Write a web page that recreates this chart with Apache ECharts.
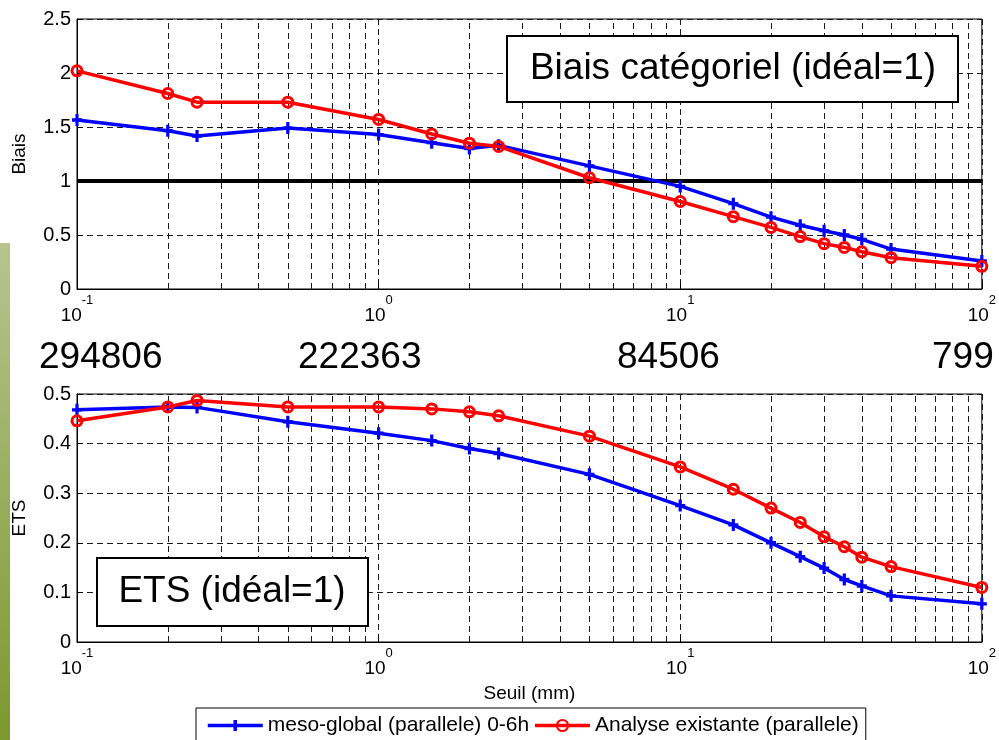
<!DOCTYPE html>
<html>
<head>
<meta charset="utf-8">
<title>Biais / ETS</title>
<script src="https://cdn.jsdelivr.net/npm/echarts@6/dist/echarts.min.js"></script>
<style>
    html, body { margin: 0; padding: 0; background: #fff; }
    #chart { width: 999px; height: 740px; }
</style>
</head>
<body>
<div id="chart"></div>
<script>
// seuils de précipitation (mm)
var seuils = [0.1, 0.2, 0.25, 0.5, 1, 1.5, 2, 2.5, 5, 10, 15, 20, 25, 30, 35, 40, 50, 100];

// biais catégoriel
var biaisMeso    = [1.565, 1.466, 1.417, 1.49, 1.43, 1.355, 1.30, 1.33, 1.14, 0.95, 0.79, 0.665, 0.59, 0.54, 0.50, 0.46, 0.37, 0.26];
var biaisAnalyse = [2.02, 1.81, 1.73, 1.73, 1.57, 1.435, 1.35, 1.32, 1.03, 0.81, 0.67, 0.57, 0.485, 0.42, 0.385, 0.345, 0.29, 0.21];

// ETS
var etsMeso    = [0.468, 0.474, 0.473, 0.444, 0.421, 0.406, 0.390, 0.380, 0.338, 0.275, 0.236, 0.200, 0.172, 0.149, 0.126, 0.113, 0.093, 0.077];
var etsAnalyse = [0.446, 0.474, 0.487, 0.474, 0.474, 0.470, 0.464, 0.456, 0.415, 0.353, 0.308, 0.270, 0.241, 0.212, 0.192, 0.171, 0.152, 0.110];

var xTicks = [0.1, 1, 10, 100];
var xTickExp = ['-1', '0', '1', '2'];
var effectifs = ['294806', '222363', '84506', '799'];
var nomsSeries = ['meso-global (parallele) 0-6h', 'Analyse existante (parallele)'];

var FONT = '"Liberation Sans", Arial, Helvetica, sans-serif';
var gridDash = { color: '#1a1a1a', width: 1, type: [6, 4] };
var plusPath = 'path://M3.4,0H6.6V3.6H10V6.4H6.6V10H3.4V6.4H0V3.6H3.4Z';

// grille mineure log (2..9 par décade)
var minorGrid = [];
[0.1, 1, 10].forEach(function (d) {
    for (var k = 2; k <= 9; k++) minorGrid.push(+(d * k).toFixed(3));
});

function xLabel(v) {
    for (var i = 0; i < xTicks.length; i++) {
        if (Math.abs(Math.log10(xTicks[i]) - Math.log10(v)) < 1e-6) {
            return '{n|10}{s|' + xTickExp[i] + '}';
        }
    }
    return '';
}

function makeXAxis(gridIndex, withName) {
    var ax = {
        type: 'log', logBase: 10, gridIndex: gridIndex,
        min: 0.1, max: 100,
        axisLine: { show: true, lineStyle: { color: '#000', width: 1 } },
        axisTick: { show: true, inside: true, length: 6, lineStyle: { color: '#000' } },
        splitLine: { show: true, lineStyle: gridDash },
        minorTick: { show: false }, minorSplitLine: { show: false },
        axisLabel: {
            margin: 5, showMinLabel: true, showMaxLabel: true,
            formatter: xLabel,
            rich: {
                n: { fontSize: 19, fontFamily: FONT, color: '#000' },
                s: { fontSize: 13, fontFamily: FONT, color: '#000', padding: [0, 0, 30, 0] }
            }
        }
    };
    if (withName) {
        ax.name = 'Seuil (mm)';
        ax.nameLocation = 'middle';
        ax.nameGap = 42;
        ax.nameTextStyle = { fontSize: 19, fontFamily: FONT, color: '#000' };
    }
    return ax;
}

function makeYAxis(gridIndex, name, max, interval) {
    return {
        type: 'value', gridIndex: gridIndex, min: 0, max: max, interval: interval,
        name: name, nameLocation: 'middle', nameGap: 48,
        nameTextStyle: { fontSize: 19, fontFamily: FONT, color: '#000' },
        axisLine: { show: true, lineStyle: { color: '#000', width: 1 } },
        axisTick: { show: true, inside: true, length: 6, lineStyle: { color: '#000' } },
        splitLine: { show: true, lineStyle: gridDash },
        axisLabel: { margin: 6, fontSize: 20, fontFamily: FONT, color: '#000' }
    };
}

function pairs(ys) {
    return seuils.map(function (x, i) { return [x, ys[i]]; });
}

function serieMeso(idx, ys) {
    return {
        name: nomsSeries[0], type: 'line', xAxisIndex: idx, yAxisIndex: idx, z: 3,
        data: pairs(ys),
        symbol: plusPath, symbolSize: [10, 12], showAllSymbol: true,
        lineStyle: { color: '#0000ff', width: 3.5 },
        itemStyle: { color: '#0000ff' }
    };
}

function serieAnalyse(idx, ys) {
    return {
        name: nomsSeries[1], type: 'line', xAxisIndex: idx, yAxisIndex: idx, z: 4,
        data: pairs(ys),
        symbol: 'circle', symbolSize: 10, showAllSymbol: true,
        lineStyle: { color: '#ff0000', width: 3.5 },
        itemStyle: { color: 'rgba(255,255,255,0)', borderColor: '#ff0000', borderWidth: 3 }
    };
}

function grilleMineure(idx) {
    return {
        type: 'line', xAxisIndex: idx, yAxisIndex: idx, data: [], silent: true, z: 1,
        markLine: {
            silent: true, z: 1, animation: false, symbol: ['none', 'none'],
            label: { show: false }, lineStyle: gridDash,
            data: minorGrid.map(function (v) { return { xAxis: v }; })
        }
    };
}

var graphics = [
    {
        type: 'rect', shape: { x: 0, y: 243, width: 10, height: 497 }, z: 0,
        style: {
            fill: new echarts.graphic.LinearGradient(0, 0, 0, 1, [
                { offset: 0, color: '#b7c48f' },
                { offset: 1, color: '#7b982e' }
            ])
        }
    },
    {
        type: 'rect', shape: { x: 507, y: 36, width: 451, height: 66 }, z: 100,
        style: { fill: '#fff', stroke: '#000', lineWidth: 2 }
    },
    {
        type: 'text', x: 733, y: 69, z: 101,
        style: { text: 'Biais catégoriel (idéal=1)', font: '37px ' + FONT, fill: '#000', align: 'center', verticalAlign: 'middle' }
    },
    {
        type: 'rect', shape: { x: 97, y: 558, width: 271, height: 68 }, z: 100,
        style: { fill: '#fff', stroke: '#000', lineWidth: 2 }
    },
    {
        type: 'text', x: 232, y: 592, z: 101,
        style: { text: 'ETS (idéal=1)', font: '37px ' + FONT, fill: '#000', align: 'center', verticalAlign: 'middle' }
    }
];
var effectifX = [39, 298, 617, 932];
effectifs.forEach(function (t, i) {
    graphics.push({
        type: 'text', x: effectifX[i], y: 358, z: 101,
        style: { text: t, font: '37px ' + FONT, fill: '#000', align: 'left', verticalAlign: 'middle' }
    });
});

var chart = echarts.init(document.getElementById('chart'), null, { renderer: 'canvas' });
chart.setOption({
    animation: false,
    backgroundColor: '#fff',
    textStyle: { fontFamily: FONT },
    grid: [
        { left: 77, top: 19, width: 906, height: 270, show: true, borderColor: '#000', borderWidth: 1, backgroundColor: 'transparent' },
        { left: 77, top: 394, width: 906, height: 248, show: true, borderColor: '#000', borderWidth: 1, backgroundColor: 'transparent' }
    ],
    legend: {
        data: nomsSeries, left: 196, top: 708, orient: 'horizontal',
        padding: [7, 7, 30, 10], itemGap: 4, itemWidth: 55, itemHeight: 14,
        borderColor: '#000', borderWidth: 1, backgroundColor: '#fff',
        lineStyle: { width: 3.5 },
        textStyle: { fontSize: 21, fontFamily: FONT, color: '#000' },
        selectedMode: false
    },
    xAxis: [makeXAxis(0, false), makeXAxis(1, true)],
    yAxis: [makeYAxis(0, 'Biais', 2.5, 0.5), makeYAxis(1, 'ETS', 0.5, 0.1)],
    series: [
        grilleMineure(0),
        grilleMineure(1),
        {
            type: 'line', xAxisIndex: 0, yAxisIndex: 0, data: [], silent: true, z: 2,
            markLine: {
                silent: true, z: 2, animation: false, symbol: ['none', 'none'],
                label: { show: false }, lineStyle: { color: '#000', width: 4, type: 'solid' },
                data: [{ yAxis: 1 }]
            }
        },
        serieMeso(0, biaisMeso),
        serieAnalyse(0, biaisAnalyse),
        serieMeso(1, etsMeso),
        serieAnalyse(1, etsAnalyse)
    ],
    graphic: graphics
});
</script>
</body>
</html>
